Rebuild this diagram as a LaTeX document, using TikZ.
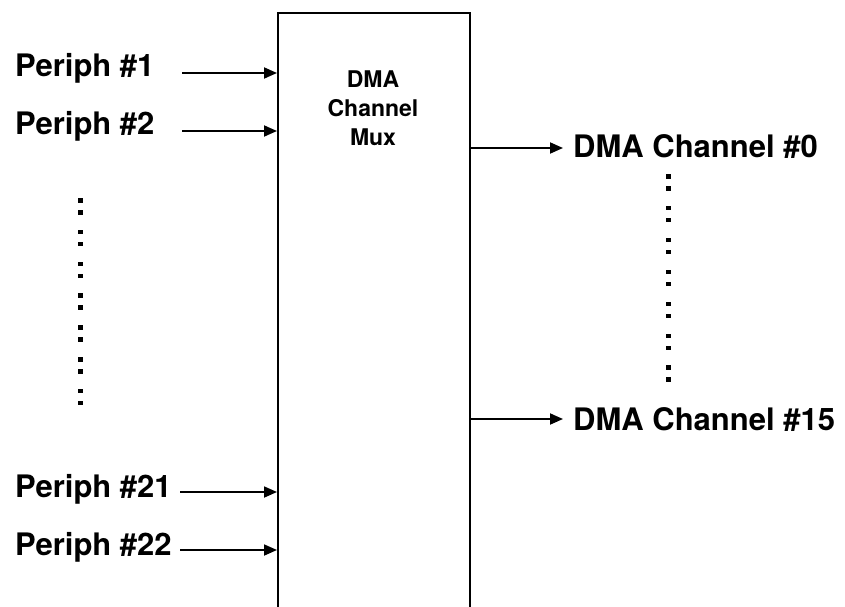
\documentclass[tikz,border=0pt]{standalone}
\usepackage{fontspec}
\setmainfont{TeX Gyre Heros}
\usetikzlibrary{arrows.meta}

\begin{document}
\begin{tikzpicture}[x=1pt,y=-1pt,
  lbl/.style={font=\fontsize{31}{36}\selectfont\bfseries, inner sep=0pt, anchor=base west},
  sig/.style={line width=1.8pt, -{Triangle[length=13pt,width=11pt]}}]
\useasboundingbox (0,0) rectangle (845,607);
\clip (0,0) rectangle (845,607);
\node[draw, line width=2.2pt, anchor=north west, minimum width=192pt, minimum height=640pt, inner sep=0pt] (mux) at (277,12) {};
\node[align=center, font=\fontsize{23}{29}\selectfont\bfseries] (muxlbl) at (373,108) {DMA\\Channel\\Mux};
% peripherals
\node[lbl] (p1) at (15,77) {Periph \#1};
\node[lbl] (p2) at (15,135) {Periph \#2};
\node[lbl] (p21) at (15,497) {Periph \#21};
\node[lbl] (p22) at (15,555) {Periph \#22};
\coordinate (p1s) at (182,73);
\coordinate (p2s) at (182,131);
\coordinate (p21s) at (180,492);
\coordinate (p22s) at (180,550);
\draw[sig] (p1s) -- (p1s -| mux.west);
\draw[sig] (p2s) -- (p2s -| mux.west);
\draw[sig] (p21s) -- (p21s -| mux.west);
\draw[sig] (p22s) -- (p22s -| mux.west);
% channels
\node[lbl] (ch0) at (573,157) {DMA Channel \#0};
\node[lbl] (ch15) at (573,430) {DMA Channel \#15};
\coordinate (ch0e) at (563,148);
\coordinate (ch15e) at (563,419);
\draw[sig] (mux.east |- ch0e) -- (ch0e);
\draw[sig] (mux.east |- ch15e) -- (ch15e);
% vertical ellipses
\foreach \i in {0,...,6} {
  \fill (78,198+\i*31.8) rectangle ++(4.5,4.5);
  \fill (78,210+\i*31.8) rectangle ++(4.5,4.5);
  \fill (666,174+\i*31.9) rectangle ++(4.5,4.5);
  \fill (666,186+\i*31.9) rectangle ++(4.5,4.5);
}
\end{tikzpicture}
\end{document}
